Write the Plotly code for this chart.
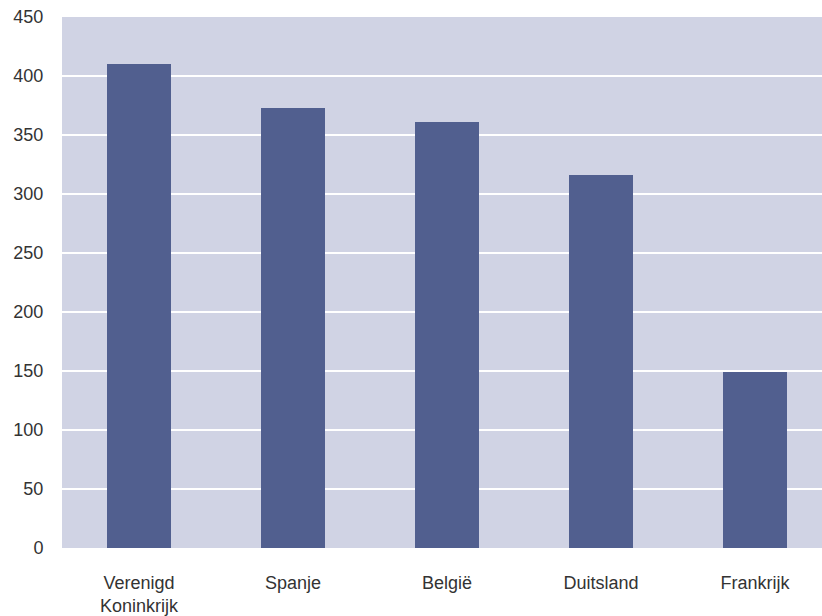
import plotly.graph_objects as go

categories = ["Verenigd<br>Koninkrijk", "Spanje", "België", "Duitsland", "Frankrijk"]
values = [410, 373, 361, 316, 149]
y_ticks = [0, 50, 100, 150, 200, 250, 300, 350, 400, 450]

fig = go.Figure(go.Bar(
    x=list(range(len(categories))), y=values,
    marker=dict(color="#515F8F", line=dict(width=0)),
    width=0.41,
))

font_fam = "Liberation Sans, Arial, sans-serif"
fig.update_layout(
    width=822, height=616,
    margin=dict(l=62, r=0, t=17, b=68),
    paper_bgcolor="white", plot_bgcolor="#D0D3E4",
    showlegend=False,
    font=dict(family=font_fam, size=18, color="#333333"),
    bargap=0,
)
fig.update_xaxes(
    tickmode="array", tickvals=list(range(len(categories))), ticktext=categories,
    range=[-0.5, 4.435], showgrid=False, zeroline=False, showline=False,
    ticks="outside", ticklen=18, tickcolor="rgba(0,0,0,0)",
    tickfont=dict(size=18, color="#333333"), automargin=False,
)
fig.update_yaxes(
    tickmode="array", tickvals=y_ticks, range=[0, 450],
    showgrid=True, gridcolor="white", gridwidth=1.5, zeroline=False,
    ticks="outside", ticklen=14, tickcolor="rgba(0,0,0,0)",
    tickfont=dict(size=18, color="#333333"), automargin=False,
)
fig.write_html(
    "out.html",
    config={"displayModeBar": False},
    post_script="document.body.style.margin='0';document.body.style.overflow='hidden';",
)
